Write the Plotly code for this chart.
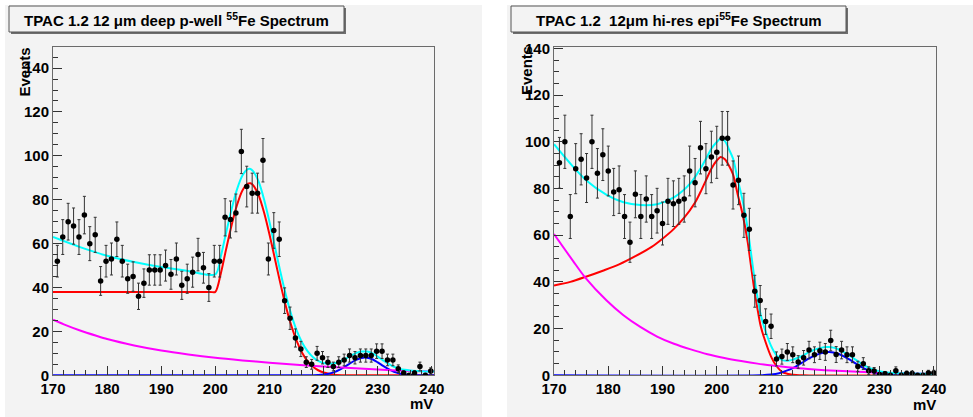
import math
import plotly.graph_objects as go

W, H = 973, 417

# ---------------- data: left panel (deep p-well) ----------------
left_x0 = 170.8
left_counts = [52, 63, 70, 68, 63, 73, 60, 64, 43, 52, 53, 62, 52, 44, 45, 36, 42, 48, 48, 48,
               50, 46, 53, 41, 44, 47, 55, 49, 40, 52, 52, 72, 71, 74, 102, 86, 83, 83, 98, 53,
               66, 62, 34, 26, 17, 12, 6, 5, 10, 8, 6, 4, 6, 7, 9, 8, 9, 9, 9, 11,
               11, 7, 7, 3, 1, 0, 1, 4, 0, 2]

# fit components (mV, Events)
left_red_x = [170, 180, 190, 199, 200, 201, 202, 203, 204, 205, 206, 206.5, 207, 208, 209, 210, 211,
              212, 213, 214, 215, 216, 217, 218, 219, 220, 221, 222, 224, 226, 230, 240.4]
left_red_y = [38, 38, 38, 38, 38, 46.3, 57.6, 68.4, 77.6, 84.2, 87.3, 87.5, 86.5, 82.0, 74.2, 64.2, 53.1,
              42.0, 31.7, 22.9, 15.8, 10.4, 6.6, 4.0, 2.3, 1.25, 0.66, 0.3, 0.05, 0, 0, 0]
left_mag_x = [170, 172, 175, 178, 180, 185, 190, 195, 200, 205, 210, 215, 220, 225, 230, 235, 240.4]
left_mag_y = [25.3, 23.2, 20.4, 18.0, 16.5, 13.6, 11.3, 9.5, 8.0, 6.8, 5.7, 4.8, 4.0, 3.3, 2.6, 2.1, 1.7]
left_blue_x = [170, 217, 219, 220, 221, 222, 223, 224, 225, 226, 227, 228, 229, 230, 231, 232, 233,
               234, 235, 236, 238, 240.4]
left_blue_y = [0, 0, 0.14, 0.34, 0.74, 1.45, 2.56, 4.0, 5.6, 7.0, 7.9, 8.0, 7.3, 5.9, 4.3, 2.8, 1.6,
               0.85, 0.4, 0.17, 0.02, 0]
left_cyan_x = [170, 175, 180, 185, 190, 195, 200, 201, 202, 203, 204, 205, 206, 206.5, 207, 208, 209,
               210, 211, 212, 213, 214, 215, 216, 217, 218, 219, 220, 221, 222, 223, 224, 225, 226,
               227, 228, 229, 230, 231, 232, 233, 234, 235, 236, 238, 240.4]
left_cyan_y = [63.0, 58.4, 54.5, 51.6, 49.3, 47.5, 46.0, 54.1, 65.1, 75.7, 84.7, 91.0, 93.9, 94.0, 92.9,
               88.2, 80.1, 69.9, 58.6, 47.3, 36.9, 27.9, 20.6, 15.1, 11.1, 8.3, 6.6, 5.6, 5.25, 5.45,
               6.3, 7.5, 8.9, 10.1, 10.8, 10.8, 10.1, 8.5, 6.8, 5.2, 3.9, 3.05, 2.5, 2.2, 1.9, 1.7]

# ---------------- data: right panel (hi-res epi) ----------------
right_x0 = 171.0
right_counts = [91, 100, 68, 88.5, 92.5, 84.5, 100, 86.5, 94.5, 87.5, 78.5, 79.5, 68, 57, 77.5, 68, 75.5,
                68, 70.5, 65, 74.5, 73.5, 74.5, 75.5, 87.5, 82.5, 97.5, 88.5, 93.5, 95.5, 101.5, 101.5,
                81.5, 83.5, 68.5, 62.5, 36, 32, 23, 21, 7, 8, 10, 8.8, 5.7, 7.5, 10.8, 8.8, 10.5, 10,
                14.9, 8.9, 10.8, 8.8, 8.8, 3.8, 5, 2, 1.8, 0.3, 0.7, 0, 2, 0, 0.8, 0.8, 0, 0, 1, 1]
right_weight = 1.3  # per-entry weight of the filled histogram (error = sqrt(w * content))

right_red_x = [170, 173, 176, 179, 182, 185, 188, 190, 192, 194, 196, 197, 198, 199, 200, 200.7, 201.5,
               202.3, 203, 203.9, 204.5, 205.1, 205.7, 206.3, 206.9, 207.5, 208.1, 209.1, 210, 210.9,
               212.1, 213.7, 216, 240.4]
right_red_y = [38.5, 40.0, 42.3, 44.8, 47.5, 51.0, 55.0, 58.5, 62.5, 67.5, 74.0, 78.5, 83.5, 88.5, 92.0,
               93.5, 92.5, 89.5, 86.0, 77.0, 71.5, 65.0, 57.0, 47.0, 37.0, 28.5, 21.0, 13.5, 8.0, 4.3,
               1.4, 0.4, 0, 0]
right_mag_x = [170, 173.5, 175.8, 179.7, 182.8, 185.9, 189, 192.1, 195.2, 198.3, 201.4, 204.5, 207.5,
               210.6, 213.7, 216.8, 219.9, 226, 232.2, 240.4]
right_mag_y = [60.5, 49.0, 41.7, 32.0, 25.7, 20.7, 16.6, 13.5, 11.1, 9.0, 7.4, 6.1, 5.0, 4.1, 3.3, 2.7,
               2.2, 1.5, 1.0, 0.6]
right_blue_x = [170, 208, 210, 211.5, 213, 214, 215, 216, 217, 218, 219, 220, 220.7, 221.5, 222.5, 223.5,
                224.5, 225.5, 226.5, 227.5, 228.5, 229.5, 230.5, 232, 234, 240.4]
right_blue_y = [0, 0, 0.3, 0.9, 2.1, 3.1, 4.4, 5.8, 7.2, 8.4, 9.3, 9.9, 10.0, 9.8, 9.1, 8.0, 6.7, 5.2,
                3.8, 2.5, 1.5, 0.8, 0.4, 0.1, 0, 0]
right_cyan_x = [170, 173.5, 175.8, 179.7, 182.8, 185.9, 189, 192.1, 195.2, 197, 198.3, 199, 200, 200.7,
                201.5, 202.3, 203, 203.9, 204.5, 205.1, 205.7, 206.3, 206.9, 207.5, 208.1, 209.1, 210,
                210.9, 212.1, 213, 213.7, 215, 216, 217, 218, 219, 220, 220.7, 221.5, 222.5, 223.5,
                224.5, 225.5, 226.5, 227.5, 228.5, 229.5, 230.5, 232, 234, 240.4]
right_cyan_y = [99.0, 89.4, 83.8, 77.3, 74.1, 72.9, 73.3, 76.2, 82.4, 88.6, 94.0, 97.0, 99.9, 101.3,
                100.3, 96.5, 92.8, 83.4, 77.6, 70.9, 62.7, 52.5, 42.2, 33.5, 25.8, 18.1, 12.6, 8.9, 6.5,
                6.2, 6.5, 7.5, 8.65, 9.9, 10.95, 11.65, 12.1, 12.15, 11.85, 11.05, 9.8, 8.4, 6.8, 5.25,
                3.85, 2.8, 2.0, 1.55, 1.1, 0.9, 0.6]

titles = ["TPAC 1.2 12 \u03bcm deep p-well <sup>55</sup>Fe Spectrum",
          "TPAC 1.2\u00a0 12\u03bcm hi-res epi<sup>55</sup>Fe Spectrum"]
x_title = "mV"
y_title = "Events"

# ---------------- layout geometry (pixels) ----------------
PAD = "#f3f3f3"
FONT = "Liberation Sans, Arial, Helvetica, sans-serif"


def px(x):
    return x / W


def py(y):
    return (H - y) / H


panels = [
    dict(x0=53, x1=434, ymax=149.6, pad=(5, 5, 482, 417), box=(9, 6, 344, 32),
         ev=(23.5, 72), mv=(421.5, 403)),
    dict(x0=554, x1=936, ymax=140.6, pad=(507, 5, 973, 417), box=(511, 6, 846, 32),
         ev=(526, 71), mv=(924, 404)),
]
y_top, y_bot = 47, 375.3

fig = go.Figure()

datasets = [
    (left_x0, left_counts, 1.0,
     [(left_red_x, left_red_y, "#ff0000"), (left_blue_x, left_blue_y, "#0000ff"),
      (left_mag_x, left_mag_y, "#ff00ff"), (left_cyan_x, left_cyan_y, "#00ffff")]),
    (right_x0, right_counts, right_weight,
     [(right_red_x, right_red_y, "#ff0000"), (right_blue_x, right_blue_y, "#0000ff"),
      (right_mag_x, right_mag_y, "#ff00ff"), (right_cyan_x, right_cyan_y, "#00ffff")]),
]

shapes = []
annotations = []
for i, (x0, counts, w, curves) in enumerate(datasets):
    xa = "x" if i == 0 else "x2"
    ya = "y" if i == 0 else "y2"
    for cx, cy, col in curves:
        fig.add_trace(go.Scatter(x=cx, y=cy, mode="lines", xaxis=xa, yaxis=ya,
                                 line=dict(color=col, width=2, shape="spline", smoothing=0.8),
                                 hoverinfo="skip", showlegend=False))
    xs = [x0 + k for k in range(len(counts))]
    errs = [math.sqrt(w * c) for c in counts]
    fig.add_trace(go.Scatter(x=xs, y=counts, mode="markers", xaxis=xa, yaxis=ya,
                             marker=dict(color="black", size=5.5, symbol="circle"),
                             error_y=dict(type="data", array=errs, visible=True,
                                          color="#333333", thickness=1, width=1.5),
                             showlegend=False))

    p = panels[i]
    x0p, y0p, x1p, y1p = p["pad"]
    shapes.append(dict(type="rect", xref="paper", yref="paper", x0=px(x0p), x1=px(x1p),
                       y0=py(y1p), y1=py(y0p), fillcolor=PAD, line=dict(width=0), layer="below"))
    bx0, by0, bx1, by1 = p["box"]
    shapes.append(dict(type="rect", xref="paper", yref="paper", x0=px(bx0 + 2), x1=px(bx1 + 2),
                       y0=py(by1 + 2), y1=py(by0 + 2), fillcolor="#6e6e6e", line=dict(width=0)))
    shapes.append(dict(type="rect", xref="paper", yref="paper", x0=px(bx0), x1=px(bx1),
                       y0=py(by1), y1=py(by0), fillcolor=PAD, line=dict(color="#555555", width=1)))
    annotations.append(dict(xref="paper", yref="paper", x=px((bx0 + bx1) / 2), y=py((by0 + by1) / 2 + 0.5),
                            text="<b>" + titles[i] + "</b>", showarrow=False, xanchor="center",
                            yanchor="middle", font=dict(family=FONT, size=15, color="black")))
    annotations.append(dict(xref="paper", yref="paper", x=px(p["ev"][0]), y=py(p["ev"][1]),
                            text="<b>" + y_title + "</b>", textangle=-90, showarrow=False,
                            xanchor="center", yanchor="middle",
                            font=dict(family=FONT, size=15, color="black")))
    annotations.append(dict(xref="paper", yref="paper", x=px(p["mv"][0]), y=py(p["mv"][1]),
                            text="<b>" + x_title + "</b>", showarrow=False,
                            xanchor="center", yanchor="middle",
                            font=dict(family=FONT, size=15, color="black")))

axis_common = dict(showgrid=False, zeroline=False, showline=True, mirror=True, automargin=False,
                   linecolor="#6a6a6a", linewidth=1, ticks="inside", tickcolor="#333333",
                   tickfont=dict(family=FONT, size=15, color="black", weight="bold"))

layout_axes = {}
for i, p in enumerate(panels):
    sx = "" if i == 0 else "2"
    layout_axes["xaxis" + sx] = dict(
        axis_common, domain=[px(p["x0"]), px(p["x1"])], range=[170, 240.4],
        anchor="y" + sx, tick0=170, dtick=10, ticklen=9,
        minor=dict(ticks="inside", dtick=2, tick0=170, ticklen=5, tickcolor="#333333"))
    layout_axes["yaxis" + sx] = dict(
        axis_common, domain=[py(y_bot), py(y_top)], range=[0, p["ymax"]],
        anchor="x" + sx, tick0=0, dtick=20, ticklen=9,
        minor=dict(ticks="inside", dtick=5, tick0=0, ticklen=5, tickcolor="#333333"))

fig.update_layout(
    width=W, height=H, autosize=False,
    margin=dict(l=0, r=0, t=0, b=0, pad=0, autoexpand=False),
    paper_bgcolor="white", plot_bgcolor=PAD,
    showlegend=False, shapes=shapes, annotations=annotations,
    **layout_axes,
)

fig.write_html("out.html", config={"displayModeBar": False},
               post_script="document.body.style.margin='0';document.body.style.overflow='hidden';")
